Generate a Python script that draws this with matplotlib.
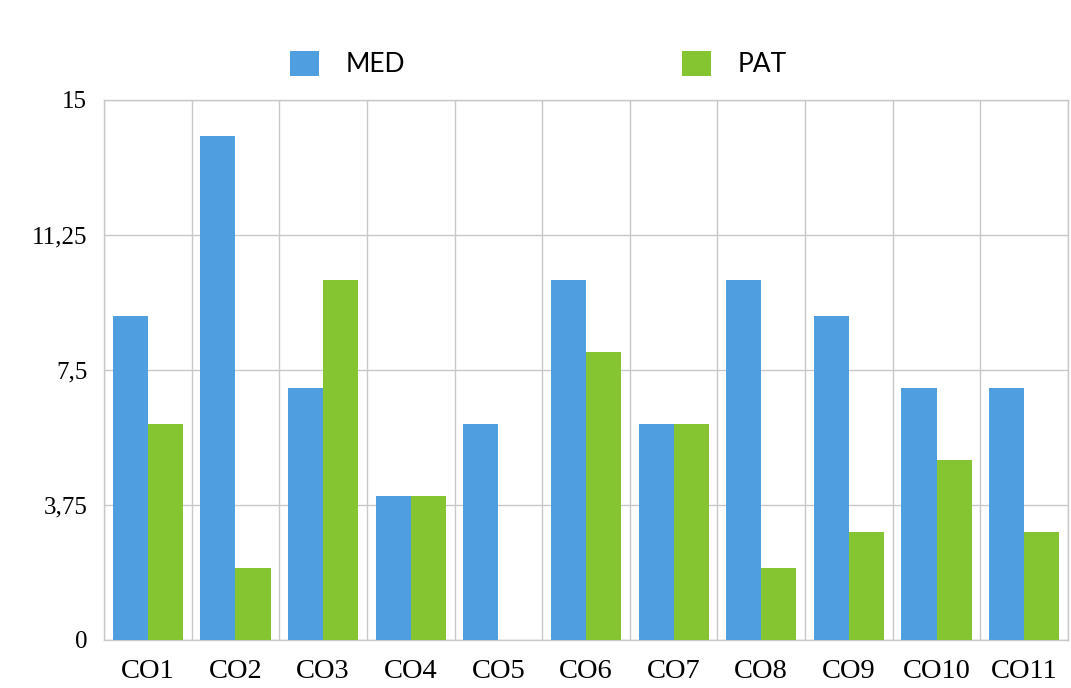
import numpy as np
import matplotlib.pyplot as plt

# Datos
categorias = ["CO1", "CO2", "CO3", "CO4", "CO5", "CO6", "CO7", "CO8", "CO9", "CO10", "CO11"]
med = [9, 14, 7, 4, 6, 10, 6, 10, 9, 7, 7]
pat = [6, 2, 10, 4, 0, 8, 6, 2, 3, 5, 3]
yticks = [0, 3.75, 7.5, 11.25, 15]
yticklabels = ["0", "3,75", "7,5", "11,25", "15"]

azul = "#4f9fe0"
verde = "#86c532"
gris = "#c8c8c8"

fig = plt.figure(figsize=(10.71, 6.88), dpi=100)
ax = fig.add_axes([104/1071, 1-640/688, (1068-104)/1071, (640-100)/688])

x = np.arange(len(categorias))
ancho = 0.4
ax.bar(x - ancho/2, med, ancho, color=azul, label="MED", zorder=3)
ax.bar(x + ancho/2, pat, ancho, color=verde, label="PAT", zorder=3)

ax.set_xlim(-0.5, len(categorias) - 0.5)
ax.set_ylim(0, 15)
ax.set_yticks(yticks)
ax.set_yticklabels(yticklabels, fontfamily="Liberation Serif", fontsize=18)
ax.set_xticks(x)
ax.set_xticklabels(categorias, fontfamily="Liberation Serif", fontsize=20.5)
ax.set_xticks(np.arange(len(categorias) + 1) - 0.5, minor=True)
ax.tick_params(which="both", length=0)
ax.tick_params(axis="y", pad=12)
ax.tick_params(axis="x", pad=14)

ax.grid(axis="y", which="major", color=gris, linewidth=1, zorder=0)
ax.grid(axis="x", which="minor", color=gris, linewidth=1, zorder=0)
for s in ax.spines.values():
    s.set_color(gris)
    s.set_linewidth(1)

fig.legend(loc="center", bbox_to_anchor=(0.503, 1-64/688), ncol=2, frameon=False,
           prop={"family": "Lato", "size": 19}, handlelength=1.1, handleheight=1.1,
           handletextpad=1.0, columnspacing=10.5)

plt.savefig("out.png", dpi=100)
